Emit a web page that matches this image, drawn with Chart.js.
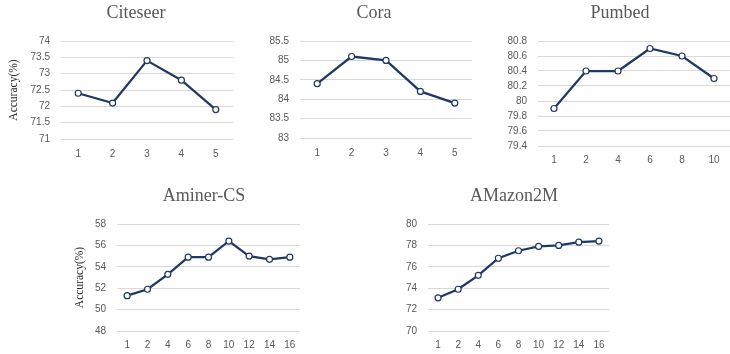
<!DOCTYPE html>
<html>
<head>
<meta charset="utf-8">
<script src="https://cdn.jsdelivr.net/npm/chart.js@4.4.1/dist/chart.umd.min.js"></script>
<style>
  html, body { margin: 0; padding: 0; background: #fff; overflow: hidden; }
  body { width: 730px; height: 354px; position: relative; }
  .box { position: absolute; }
</style>
</head>
<body>
<div class="box" style="left:0px;top:0px;width:272px;height:170px"><canvas id="citeseer"></canvas></div>
<div class="box" style="left:240px;top:0px;width:268px;height:170px"><canvas id="cora"></canvas></div>
<div class="box" style="left:500px;top:0px;width:240px;height:170px"><canvas id="pumbed"></canvas></div>
<div class="box" style="left:40px;top:180px;width:328px;height:174px"><canvas id="aminer"></canvas></div>
<div class="box" style="left:400px;top:180px;width:228px;height:174px"><canvas id="amazon"></canvas></div>
<script>
// x labels
const layersSmall = ["1", "2", "3", "4", "5"];
const layersPubmed = ["1", "2", "4", "6", "8", "10"];
const layersLarge = ["1", "2", "4", "6", "8", "10", "12", "14", "16"];

// accuracy values
const citeseerAcc = [72.4, 72.1, 73.4, 72.8, 71.9];
const coraAcc = [84.4, 85.1, 85.0, 84.2, 83.9];
const pubmedAcc = [79.9, 80.4, 80.4, 80.7, 80.6, 80.3];
const aminerAcc = [51.3, 51.9, 53.3, 54.9, 54.9, 56.4, 55.0, 54.7, 54.9];
const amazonAcc = [73.1, 73.9, 75.2, 76.8, 77.5, 77.9, 78.0, 78.3, 78.4];

const lineColor = "#203864";
const tickColor = "#595959";

function makeChart(id, o) {
    return new Chart(document.getElementById(id), {
        type: "line",
        data: {
            labels: o.labels,
            datasets: [{
                data: o.values,
                borderColor: lineColor,
                borderWidth: 2.25,
                backgroundColor: "#ffffff",
                pointBackgroundColor: "#ffffff",
                pointBorderColor: lineColor,
                pointBorderWidth: 1.2,
                pointRadius: 3,
                tension: 0
            }]
        },
        options: {
            responsive: true,
            maintainAspectRatio: false,
            animation: false,
            layout: { padding: 0 },
            plugins: {
                legend: { display: false },
                tooltip: { enabled: false },
                title: {
                    display: true,
                    text: o.title,
                    color: tickColor,
                    font: { family: "Liberation Serif", size: 18, weight: "normal" },
                    padding: { top: o.titleTop, bottom: o.titleBottom }
                }
            },
            scales: {
                x: {
                    offset: true,
                    grid: { display: false, drawTicks: false },
                    border: { display: false },
                    ticks: { color: tickColor, font: { family: "Liberation Sans", size: 10 }, padding: o.xPad, maxRotation: 0 },
                    afterFit: (s) => { s.height = o.xHeight; }
                },
                y: {
                    min: o.min,
                    max: o.max,
                    grid: { color: "#d9d9d9", drawTicks: false, lineWidth: 1 },
                    border: { display: false },
                    ticks: {
                        stepSize: o.step,
                        color: tickColor,
                        font: { family: "Liberation Sans", size: 10 },
                        padding: 11,
                        callback: (v) => String(Number(v.toFixed(2)))
                    },
                    title: {
                        display: !!o.yTitle,
                        text: "Accuracy(%)",
                        color: "#262626",
                        font: { family: "Liberation Serif", size: 11.5 },
                        padding: { top: o.yTitlePad || 0, bottom: 0 }
                    },
                    afterFit: (s) => { s.width = o.yWidth; }
                },
                // empty right-hand space so the title centres on the whole chart
                spacer: {
                    type: "linear",
                    position: "right",
                    display: true,
                    grid: { display: false, drawTicks: false },
                    border: { display: false },
                    ticks: { display: false },
                    afterFit: (s) => { s.width = o.padRight; }
                }
            }
        }
    });
}

makeChart("citeseer", { labels: layersSmall, values: citeseerAcc, title: "Citeseer",
    min: 71, max: 74, step: 0.5, yWidth: 61, padRight: 39, xHeight: 31, xPad: 9,
    titleTop: 2, titleBottom: 17.4, yTitle: true, yTitlePad: 7 });
makeChart("cora", { labels: layersSmall, values: coraAcc, title: "Cora",
    min: 83, max: 85.5, step: 0.5, yWidth: 60, padRight: 36, xHeight: 32, xPad: 9,
    titleTop: 2, titleBottom: 17.4 });
makeChart("pumbed", { labels: layersPubmed, values: pubmedAcc, title: "Pumbed",
    min: 79.4, max: 80.8, step: 0.2, yWidth: 38, padRight: 10, xHeight: 24, xPad: 8,
    titleTop: 2, titleBottom: 17.4 });
makeChart("aminer", { labels: layersLarge, values: aminerAcc, title: "Aminer-CS",
    min: 48, max: 58, step: 2, yWidth: 77, padRight: 68, xHeight: 23, xPad: 8,
    titleTop: 5, titleBottom: 17.4, yTitle: true, yTitlePad: 33 });
makeChart("amazon", { labels: layersLarge, values: amazonAcc, title: "AMazon2M",
    min: 70, max: 80, step: 2, yWidth: 28, padRight: 19, xHeight: 23, xPad: 8,
    titleTop: 5, titleBottom: 17.4 });
</script>
</body>
</html>
